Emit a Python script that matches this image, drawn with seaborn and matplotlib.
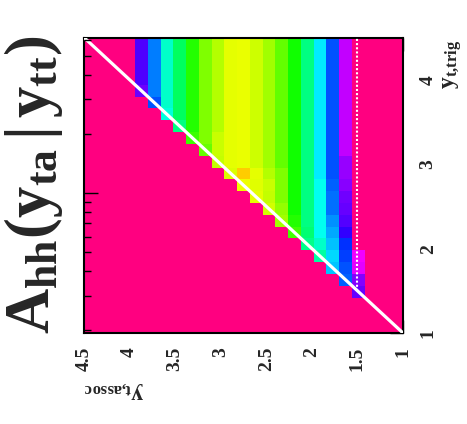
import numpy as np
import pandas as pd
import matplotlib
matplotlib.use("Agg")
import matplotlib.pyplot as plt
import seaborn as sns
from matplotlib.colors import ListedColormap, hsv_to_rgb
from matplotlib.ticker import FixedLocator, NullFormatter

sns.set_style("white")
plt.rcParams.update({
    "font.family": ["Liberation Serif", "DejaVu Serif"],
    "font.weight": "bold",
    "mathtext.fontset": "custom",
    "mathtext.rm": "Liberation Serif",
    "mathtext.it": "Liberation Serif:italic",
    "mathtext.bf": "Liberation Serif:bold",
})

# 25 x 25 bins in transverse rapidity, 1 .. 4.5 on both axes
yt_min, yt_max, n_bins = 1.0, 4.5, 25
bin_w = (yt_max - yt_min) / n_bins

# y_t,assoc bin index of each filled column
col_index = [3, 4, 5, 6, 7, 8, 9, 10, 11, 12, 13, 14, 15, 16, 17, 18, 19, 20]
# A_hh level of each column away from the diagonal
col_plateau = [0.00, 0.155, 0.376, 0.50, 0.621, 0.738, 0.803, 0.855, 0.89,
               0.914, 0.907, 0.869, 0.828, 0.752, 0.645, 0.559, 0.414, 0.248]
# A_hh of each column from the diagonal bin upward, where it departs from the plateau
col_near_diag = [
    [0.23, 0.207, 0.128, 0.114],
    [0.39, 0.376, 0.362, 0.348, 0.272, 0.245, 0.23, 0.22, 0.20, 0.19, 0.19],
    [0.472, 0.486, 0.466, 0.448, 0.428, 0.40, 0.40, 0.39],
    [0.59, 0.56, 0.53, 0.53, 0.53, 0.53, 0.53],
    [0.61, 0.63],
    [0.776, 0.75],
    [0.855, 0.84, 0.828, 0.828, 0.828],
    [0.893, 0.879, 0.886, 0.869],
    [0.91, 0.905, 0.91],
    [0.917, 0.969],
    [0.90],
    [0.88, 0.886, 0.886],
    [0.807],
    [0.77],
    [0.62],
    [0.545],
    [0.376],
    [0.224],
]

x_major = [4.5, 4.0, 3.5, 3.0, 2.5, 2.0, 1.5, 1.0]
x_major_labels = ["4.5", "4", "3.5", "3", "2.5", "2", "1.5", "1"]
y_major = [1.0, 2.0, 3.0, 4.0]
y_major_labels = ["1", "2", "3", "4"]
cut_yt = 1.5

# histogram grid [trig bin, assoc bin]
grid = np.zeros((n_bins, n_bins))
for i, plateau, low in zip(col_index, col_plateau, col_near_diag):
    for k, j in enumerate(range(i, n_bins)):
        grid[j, i] = low[k] if k < len(low) else plateau

# high y_t,trig on top, high y_t,assoc on the left
df = pd.DataFrame(grid[::-1, ::-1])

# rainbow palette running from pink (low) to orange (high)
t = np.linspace(0, 1, 256)
hsv = np.stack([(330 - 290 * t) / 360.0, np.ones_like(t), np.ones_like(t)], axis=1)
cmap = ListedColormap(hsv_to_rgb(hsv))

W, H = 467, 424
fig = plt.figure(figsize=(W / 100, H / 100), dpi=100)
ax_rect = [84 / W, 1 - 333 / H, (403 - 84) / W, (333 - 37.5) / H]
ax = fig.add_axes(ax_rect)

sns.heatmap(df, cmap=cmap, vmin=0, vmax=1, cbar=False, ax=ax,
            xticklabels=False, yticklabels=False, linewidths=0)


def pos(v):
    # rapidity value -> heatmap cell coordinate
    return (yt_max - v) / bin_w


# diagonal y_t,assoc = y_t,trig
ax.plot([pos(yt_max), pos(yt_min)], [pos(yt_max), pos(yt_min)],
        color="white", lw=2.3, solid_capstyle="butt", zorder=3)
# dotted cut at y_t,assoc = 1.5
ax.plot([pos(cut_yt), pos(cut_yt)], [pos(cut_yt), pos(yt_max)],
        color="white", lw=1.5, ls=(0, (1, 1)), zorder=3)

for s in ax.spines.values():
    s.set_visible(True)
    s.set_color("black")
    s.set_linewidth(1.5)

tick_font = dict(family="Liberation Serif", weight="bold", size=14)

ax.set_xticks([pos(v) for v in x_major])
ax.set_xticklabels(x_major_labels, rotation=90, fontdict=tick_font)
ax.xaxis.set_minor_locator(FixedLocator([pos(v) for v in np.arange(1.0, 4.51, 0.1)]))
ax.tick_params(axis="x", which="both", direction="in", top=True, bottom=True,
               width=1.0, color="black", pad=10)
ax.tick_params(axis="x", which="major", length=9.5)
ax.tick_params(axis="x", which="minor", length=5)

ax.yaxis.tick_right()
ax.set_yticks([pos(v) for v in y_major])
ax.set_yticklabels(y_major_labels, rotation=90, fontdict=tick_font, va="center")
ax.yaxis.set_minor_locator(FixedLocator([pos(v) for v in np.arange(1.0, 4.51, 0.25)]))
ax.tick_params(axis="y", which="both", direction="in", left=False, right=True,
               labelleft=False, labelright=True, width=1.0, color="black", pad=12)
ax.tick_params(axis="y", which="major", length=9.5)
ax.tick_params(axis="y", which="minor", length=5)

# logarithmic scale ticks on the left edge
ax_log = fig.add_axes(ax_rect, facecolor="none")
ax_log.set_yscale("log")
ax_log.set_ylim(1.932, 62.1)
ax_log.set_xticks([])
for s in ax_log.spines.values():
    s.set_visible(False)
ax_log.yaxis.set_major_locator(FixedLocator([10]))
ax_log.yaxis.set_minor_locator(FixedLocator([2, 3, 4, 5, 6, 7, 8, 9, 20, 30, 40, 50, 60]))
ax_log.yaxis.set_major_formatter(NullFormatter())
ax_log.yaxis.set_minor_formatter(NullFormatter())
ax_log.tick_params(axis="y", which="both", direction="in", left=True, right=False,
                   width=1.0, color="black")
ax_log.tick_params(axis="y", which="major", length=10)
ax_log.tick_params(axis="y", which="minor", length=5)

# axis titles
ax.text(0.0, -0.193, r"$\mathbf{y}_{\mathrm{t{,}assoc}}$", transform=ax.transAxes,
        rotation=180, ha="left", va="center", fontsize=17)
ax.text(1.157, 0.991, r"$\mathbf{y}_{\mathrm{t{,}trig}}$", transform=ax.transAxes,
        rotation=90, ha="center", va="top", fontsize=17)

fig.text(34 / W, 1 - 185 / H, r"$\mathbf{A_{hh}(y_{ta}\,|\,y_{tt})}$",
         rotation=90, ha="center", va="center", fontsize=45)

fig.savefig("out.png", dpi=100)
